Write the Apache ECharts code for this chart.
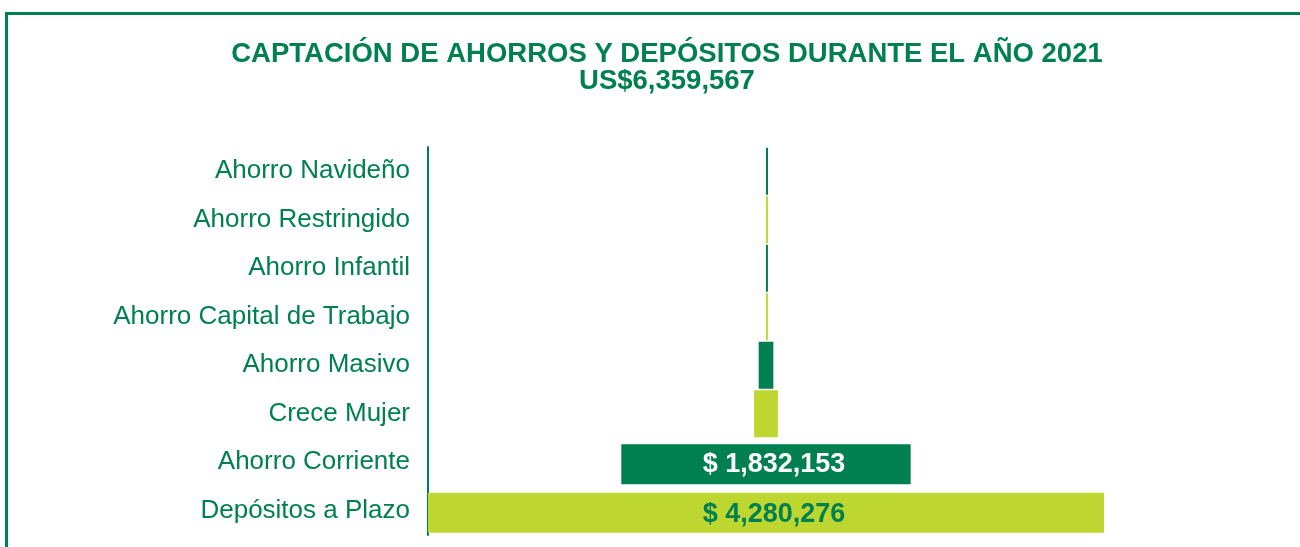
<!DOCTYPE html>
<html>
<head>
<meta charset="utf-8">
<script src="https://cdn.jsdelivr.net/npm/echarts@6/dist/echarts.min.js"></script>
<style>
  html, body { margin: 0; padding: 0; background: #fff; overflow: hidden; }
  #frame {
    position: absolute; left: 5px; top: 12px; width: 1400px; height: 700px;
    border-left: 3px solid #008051; border-top: 3px solid #008051;
  }
  #chart { position: absolute; left: 0; top: 0; width: 1300px; height: 547px; }
</style>
</head>
<body>
<div id="frame"></div>
<div id="chart"></div>
<script>
// categorias, de arriba hacia abajo
const categories = [
  'Ahorro Navideño',
  'Ahorro Restringido',
  'Ahorro Infantil',
  'Ahorro Capital de Trabajo',
  'Ahorro Masivo',
  'Crece Mujer',
  'Ahorro Corriente',
  'Depósitos a Plazo'
];
// montos en US$
const values = [338, 900, 700, 1200, 93000, 151000, 1832153, 4280276];
const totalLabel = 'US$6,359,567';
const titleText = 'CAPTACIÓN DE AHORROS Y DEPÓSITOS DURANTE EL AÑO 2021';

const darkGreen = '#008051';
const lightGreen = '#bed730';
const font = '"Liberation Sans", Arial, sans-serif';

const maxVal = Math.max(...values);
const bigRow = (i) => i >= 6; // las dos filas grandes llevan barra mas delgada

function offsetData(big) {
  return values.map((v, i) => (bigRow(i) === big ? (maxVal - v) / 2 : '-'));
}
function valueData(big) {
  return values.map((v, i) => {
    if (bigRow(i) !== big) return '-';
    let color = i % 2 === 0 ? darkGreen : lightGreen;
    let item = { value: v, itemStyle: { color: color } };
    if (big) {
      item.label = {
        show: true,
        color: i % 2 === 0 ? '#ffffff' : darkGreen,
        offset: [8, i === 7 ? 2 : 0]
      };
    }
    return item;
  });
}

const option = {
  animation: false,
  title: {
    text: titleText + '\n' + totalLabel,
    left: 662,
    top: 36,
    textAlign: 'center',
    textStyle: {
      fontFamily: font,
      fontSize: 27.5,
      fontWeight: 'bold',
      color: darkGreen,
      lineHeight: 27
    }
  },
  grid: [
    { left: 428, top: 147, width: 676, height: 388 },
    { left: 428, top: 149, width: 676, height: 388 }
  ],
  xAxis: [
    { type: 'value', gridIndex: 0, min: 0, max: maxVal, show: false },
    { type: 'value', gridIndex: 1, min: 0, max: maxVal, show: false }
  ],
  yAxis: [
    {
      type: 'category',
      gridIndex: 0,
      data: categories,
      inverse: true,
      axisLine: { show: true, lineStyle: { color: darkGreen, width: 2 } },
      axisTick: { show: false },
      axisLabel: {
        fontFamily: font,
        fontSize: 26,
        color: darkGreen,
        margin: 18
      }
    },
    {
      type: 'category',
      gridIndex: 1,
      data: categories,
      inverse: true,
      show: false
    }
  ],
  series: [
    {
      type: 'bar',
      stack: 'small',
      xAxisIndex: 0,
      yAxisIndex: 0,
      barWidth: 47,
      itemStyle: { color: 'transparent' },
      data: offsetData(false)
    },
    {
      type: 'bar',
      stack: 'small',
      xAxisIndex: 0,
      yAxisIndex: 0,
      barWidth: 47,
      barMinHeight: 2,
      data: valueData(false)
    },
    {
      type: 'bar',
      stack: 'big',
      xAxisIndex: 1,
      yAxisIndex: 1,
      barWidth: 40,
      itemStyle: { color: 'transparent' },
      data: offsetData(true)
    },
    {
      type: 'bar',
      stack: 'big',
      xAxisIndex: 1,
      yAxisIndex: 1,
      barWidth: 40,
      label: {
        show: true,
        position: 'inside',
        fontFamily: font,
        fontSize: 27,
        fontWeight: 'bold',
        formatter: (p) => '$ ' + p.value.toLocaleString('en-US')
      },
      data: valueData(true)
    }
  ]
};

const chart = echarts.init(document.getElementById('chart'));
chart.setOption(option);
</script>
</body>
</html>
